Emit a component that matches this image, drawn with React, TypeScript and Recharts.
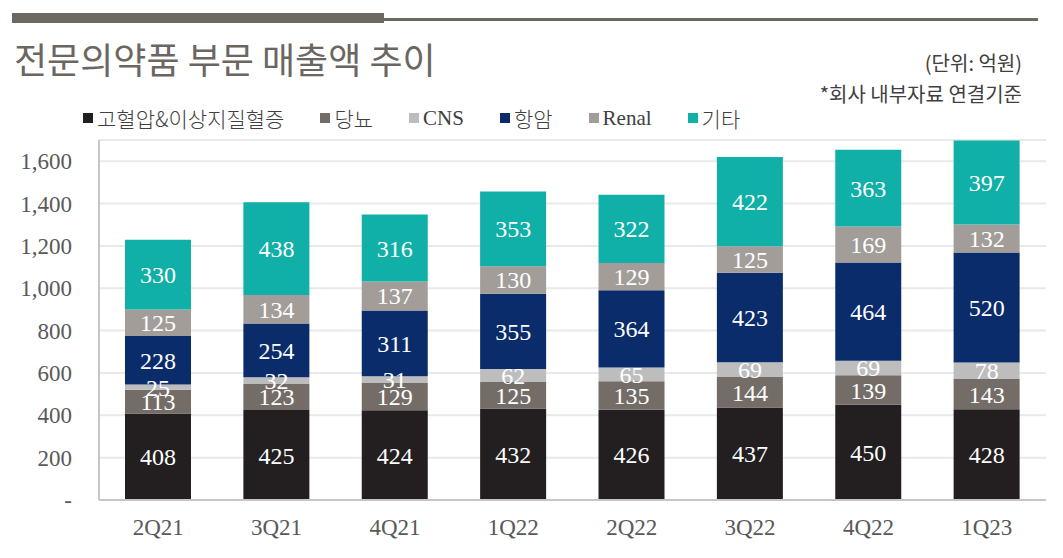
import { BarChart, Bar, XAxis, YAxis, CartesianGrid, LabelList } from "recharts";

const quarters = ["2Q21", "3Q21", "4Q21", "1Q22", "2Q22", "3Q22", "4Q22", "1Q23"];
const hypertension = [408, 425, 424, 432, 426, 437, 450, 428];
const diabetes = [113, 123, 129, 125, 135, 144, 139, 143];
const cns = [25, 32, 31, 62, 65, 69, 69, 78];
const oncology = [228, 254, 311, 355, 364, 423, 464, 520];
const renal = [125, 134, 137, 130, 129, 125, 169, 132];
const others = [330, 438, 316, 353, 322, 422, 363, 397];
const yTicks = [0, 200, 400, 600, 800, 1000, 1200, 1400, 1600];

const series = [
  { key: "hyp", name: "고혈압&이상지질혈증", values: hypertension, color: "#231f20" },
  { key: "dia", name: "당뇨", values: diabetes, color: "#746d67" },
  { key: "cns", name: "CNS", values: cns, color: "#bdbdbd" },
  { key: "onc", name: "항암", values: oncology, color: "#0a2c6a" },
  { key: "ren", name: "Renal", values: renal, color: "#a29d99" },
  { key: "etc", name: "기타", values: others, color: "#10b0a8" },
];

const data = quarters.map((q, i) => {
  const row: Record<string, string | number> = { q };
  series.forEach((s) => (row[s.key] = s.values[i]));
  return row;
});

const serif = "'Liberation Serif', 'DejaVu Serif', serif";
const kr = "'Noto Sans CJK KR', 'Noto Sans', sans-serif";
const gray = "#6b6661";

// legend drawn as html above the plot so it does not eat the plot height
const LegendRow = () => (
  <div
    style={{
      position: "absolute",
      left: 83,
      top: 104,
      display: "flex",
      alignItems: "center",
      fontSize: 21,
      color: "#404040",
      lineHeight: "28px",
    }}
  >
    {series.map((s) => (
      <div key={s.key} style={{ display: "flex", alignItems: "center", marginRight: 36 }}>
        <span style={{ width: 10, height: 10, background: s.color, display: "inline-block", marginRight: 4 }} />
        <span style={{ fontFamily: /[A-Za-z]/.test(s.name) ? serif : kr, fontWeight: 300 }}>{s.name}</span>
      </div>
    ))}
  </div>
);

export default function App() {
  return (
    <div style={{ position: "absolute", left: 0, top: 0, width: 1063, height: 558, background: "#fff", fontFamily: kr }}>
      <BarChart
        width={1063}
        height={558}
        data={data}
        margin={{ top: 140, right: 17, bottom: 28, left: 0 }}
        barSize={66}
      >
        <CartesianGrid vertical={false} stroke="#e9e9e9" strokeWidth={2} />
        <XAxis
          dataKey="q"
          height={30}
          axisLine={{ stroke: "#c6c6c6", strokeWidth: 2 }}
          tickLine={false}
          tickSize={0}
          tickMargin={19}
          tick={{ fill: "#595959", fontSize: 23, fontFamily: serif }}
        />
        <YAxis
          width={99}
          domain={[0, 1700]}
          ticks={yTicks}
          interval={0}
          axisLine={{ stroke: "#c6c6c6", strokeWidth: 2 }}
          tickLine={false}
          tickSize={0}
          tickMargin={27}
          tick={{ fill: "#595959", fontSize: 23, fontFamily: serif }}
          tickFormatter={(v: number) => (v === 0 ? "-" : v.toLocaleString("en-US"))}
        />
        {series.map((s) => (
          <Bar key={s.key} dataKey={s.key} name={s.name} stackId="a" fill={s.color} isAnimationActive={false}>
            <LabelList
              dataKey={s.key}
              position="center"
              fill="#ffffff"
              fontSize={24}
              fontFamily={serif}
            />
          </Bar>
        ))}
      </BarChart>
      <div style={{ position: "absolute", left: 12, top: 13, width: 372, height: 10, background: "#6e6862" }} />
      <div style={{ position: "absolute", left: 384, top: 18, width: 654, height: 3, background: "#6e6862" }} />
      <div style={{ position: "absolute", left: 14, top: 33, fontSize: 36, color: gray, lineHeight: "50px" }}>
        전문의약품 부문 매출액 추이
      </div>
      <div style={{ position: "absolute", right: 41, top: 49, fontSize: 20, color: "#404040", lineHeight: "28px" }}>
        (단위: 억원)
      </div>
      <div style={{ position: "absolute", right: 41, top: 80, fontSize: 20, color: "#404040", lineHeight: "28px" }}>
        *회사 내부자료 연결기준
      </div>
      <LegendRow />
    </div>
  );
}
